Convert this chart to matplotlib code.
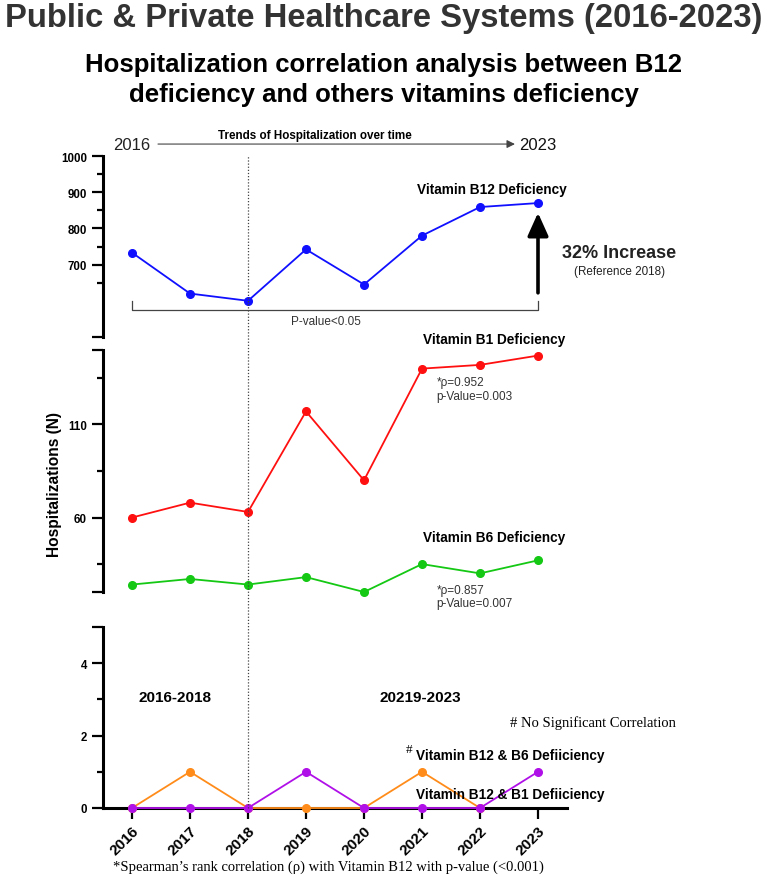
import numpy as np
import matplotlib
matplotlib.use("Agg")
import matplotlib.pyplot as plt
from matplotlib.lines import Line2D
from matplotlib.transforms import blended_transform_factory
from matplotlib.ticker import FixedLocator, FixedFormatter

plt.rcParams['font.family'] = ['Liberation Sans', 'DejaVu Sans']

# data
years = [2016, 2017, 2018, 2019, 2020, 2021, 2022, 2023]
b12 = [733, 620, 600, 742, 645, 780, 859, 870]
b1 = [60, 68, 63, 117, 80, 140, 142, 147]
b6 = [24, 27, 24, 28, 20, 35, 30, 37]
b12_b6 = [0, 1, 0, 0, 0, 1, 0, np.nan]
b12_b1 = [0, 0, 0, 1, 0, 0, 0, 1]
ref_year = 2018

W, H = 767, 879
fig = plt.figure(figsize=(W / 100, H / 100), dpi=100)

def box(top, bottom, left=103, right=567):
    return [left / W, 1 - bottom / H, (right - left) / W, (bottom - top) / H]

ax1 = fig.add_axes(box(157, 338))
ax2 = fig.add_axes(box(351, 593))
ax3 = fig.add_axes(box(628, 809))

for ax in (ax1, ax2, ax3):
    ax.set_xlim(2015.5, 2023.5)
    for s in ('top', 'right'):
        ax.spines[s].set_visible(False)
    ax.spines['left'].set_linewidth(2.2)
    ax.tick_params(axis='y', which='major', length=8, width=1.6, labelsize=8.3)
    ax.tick_params(axis='y', which='minor', length=4.5, width=1.6)
for ax in (ax1, ax2):
    ax.spines['bottom'].set_visible(False)
    ax.set_xticks([])

ax3.spines['bottom'].set_linewidth(2.2)

def yticks(ax, major, labels, minor):
    ax.yaxis.set_major_locator(FixedLocator(major))
    ax.yaxis.set_major_formatter(FixedFormatter(labels))
    ax.yaxis.set_minor_locator(FixedLocator(minor))
    for lab in ax.get_yticklabels():
        lab.set_fontweight('bold')

ax1.set_ylim(500, 1000)
yticks(ax1, [500, 700, 800, 900, 1000], ['', '700', '800', '900', '1000'], [650, 750, 850, 950])
ax2.set_ylim(20, 150)
yticks(ax2, [20, 60, 110, 150], ['', '60', '110', ''], [35, 85, 135])
ax3.set_ylim(0, 5)
yticks(ax3, [0, 2, 4, 5], ['0', '2', '4', ''], [1, 3])

ax3.set_xticks(years)
ax3.set_xticklabels([str(y) for y in years], rotation=45, ha='right',
                    rotation_mode='anchor', fontsize=11, fontweight='bold')
ax3.tick_params(axis='x', length=8, width=1.6, pad=3)

mk = dict(marker='o', markersize=5.5, linewidth=1.3, clip_on=False, zorder=3)
ax1.plot(years, b12, color='#1010ff', **mk)
ax2.plot(years, b1, color='#ff1010', **mk)
ax2.plot(years, b6, color='#14c814', **mk)
ax3.plot(years, b12_b6, color='#ff8c1a', **mk)
ax3.plot(years, b12_b1, color='#b010e8', **mk)

# dotted reference line through all three panels
tr = blended_transform_factory(ax3.transData, fig.transFigure)
fig.add_artist(Line2D([ref_year, ref_year], [1 - 809 / H, 1 - 156 / H], transform=tr,
                      linestyle=(0, (1, 1.5)), color='#444444', linewidth=0.9))

# header arrow
ax1.text(2016, 1033, '2016', ha='center', va='center', fontsize=12, color='#222222')
ax1.text(2023, 1033, '2023', ha='center', va='center', fontsize=12, color='#111111')
ax1.annotate('', xy=(2022.65, 1033), xytext=(2016.4, 1033), annotation_clip=False,
             arrowprops=dict(arrowstyle='-|>', color='#444444', lw=0.8, mutation_scale=12))
ax1.text(2019.15, 1057, 'Trends of Hospitalization over time', ha='center', va='center',
         fontsize=8.4, fontweight='bold')

# top panel annotations
ax1.text(2022.2, 909, 'Vitamin B12 Deficiency', ha='center', va='center', fontsize=9.8, fontweight='bold')
ax1.annotate('', xy=(2023, 843), xytext=(2023, 622), annotation_clip=False,
             arrowprops=dict(arrowstyle='-|>,head_width=0.45,head_length=1.0', color='black',
                             lw=2.6, mutation_scale=14, shrinkA=0, shrinkB=0))
ax1.text(2024.4, 733, '32% Increase', ha='center', va='center', fontsize=13, fontweight='bold',
         color='#222222')
ax1.text(2024.4, 681, '(Reference 2018)', ha='center', va='center', fontsize=8.4, color='#222222')
ax1.plot([2016, 2016, 2023, 2023], [599, 574, 574, 599], color='#444444', lw=0.9, clip_on=False)
ax1.text(2019.35, 543, 'P-value<0.05', ha='center', va='center', fontsize=8.5, color='#333333')

# middle panel annotations
ax2.text(2022.25, 155.7, 'Vitamin B1 Deficiency', ha='center', va='center', fontsize=9.8, fontweight='bold')
ax2.text(2021.25, 133, '*\u03c1=0.952', ha='left', va='center', fontsize=8.5, color='#333333')
ax2.text(2021.25, 125.4, 'p-Value=0.003', ha='left', va='center', fontsize=8.5, color='#333333')
ax2.text(2022.25, 49.8, 'Vitamin B6 Deficiency', ha='center', va='center', fontsize=9.8, fontweight='bold')
ax2.text(2021.25, 21, '*\u03c1=0.857', ha='left', va='center', fontsize=8.5, color='#333333')
ax2.text(2021.25, 13.9, 'p-Value=0.007', ha='left', va='center', fontsize=8.5, color='#333333')
ax2.set_ylabel('Hospitalizations (N)', fontsize=11.2, fontweight='bold')
ax2.yaxis.set_label_coords(-0.088, 0.45)

# bottom panel annotations
ax3.text(2016.74, 3.07, '2016-2018', ha='center', va='center', fontsize=11, fontweight='bold')
ax3.text(2020.27, 3.07, '20219-2023', ha='left', va='center', fontsize=11, fontweight='bold')
ax3.text(2022.52, 2.38, '# No Significant Correlation', ha='left', va='center', fontsize=10.5,
         family=['Liberation Serif', 'DejaVu Serif'])
ax3.text(2020.77, 1.63, '#', ha='center', va='center', fontsize=9.5,
         family=['Liberation Serif', 'DejaVu Serif'])
ax3.text(2020.9, 1.47, 'Vitamin B12 & B6 Defiiciency', ha='left', va='center', fontsize=9.8, fontweight='bold')
ax3.text(2020.9, 0.39, 'Vitamin B12 & B1 Defiiciency', ha='left', va='center', fontsize=9.8, fontweight='bold')

# titles and footnote
fig.text(0.5, 1 - 19 / H, 'Public & Private Healthcare Systems (2016-2023)', ha='center', va='center',
         fontsize=23.6, fontweight='bold', color='#333333')
fig.text(0.5, 1 - 80 / H, 'Hospitalization correlation analysis between B12\ndeficiency and others vitamins deficiency',
         ha='center', va='center', fontsize=18.5, fontweight='bold', linespacing=1.33)
fig.text(328 / W, 1 - 867 / H, '*Spearman\u2019s rank correlation (\u03c1) with Vitamin B12 with p-value (<0.001)',
         ha='center', va='center', fontsize=10.5, family=['Liberation Serif', 'DejaVu Serif'])

fig.savefig('out.png', dpi=100)
